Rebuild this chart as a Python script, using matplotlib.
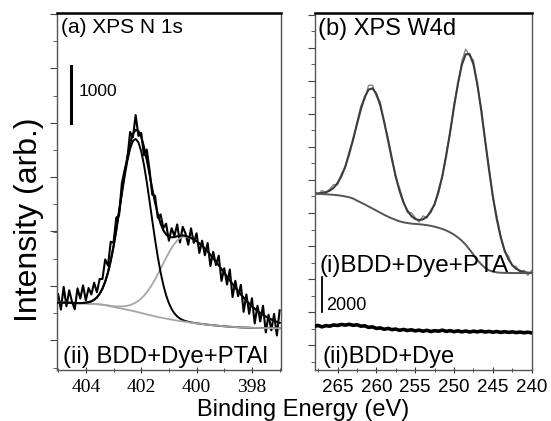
import matplotlib
matplotlib.use("Agg")
import matplotlib.pyplot as plt
from matplotlib.ticker import MultipleLocator, NullFormatter

plt.rcParams['font.family'] = ['Liberation Sans', 'DejaVu Sans']

# ---------------- (a) XPS N 1s : BDD+Dye+PTA ----------------
n1s_energy = [405.0, 404.9, 404.8, 404.7, 404.6, 404.5, 404.4, 404.3, 404.2, 404.1,
              404.0, 403.9, 403.8, 403.7, 403.6, 403.5, 403.4, 403.3, 403.2, 403.1,
              403.0, 402.9, 402.8, 402.7, 402.6, 402.5, 402.4, 402.3, 402.2, 402.1,
              402.0, 401.9, 401.8, 401.7, 401.6, 401.5, 401.4, 401.3, 401.2, 401.1,
              401.0, 400.9, 400.8, 400.7, 400.6, 400.5, 400.4, 400.3, 400.2, 400.1,
              400.0, 399.9, 399.8, 399.7, 399.6, 399.5, 399.4, 399.3, 399.2, 399.1,
              399.0, 398.9, 398.8, 398.7, 398.6, 398.5, 398.4, 398.3, 398.2, 398.1,
              398.0, 397.9, 397.8, 397.7, 397.6, 397.5, 397.4, 397.3, 397.2, 397.1,
              397.0]

# measured counts (noisy)
n1s_counts = [1335, 1065, 1464, 1123, 1403, 1202, 1069, 1438, 1258, 1490,
              1224, 1443, 1329, 1537, 1368, 1602, 1602, 1946, 1839, 2257,
              2239, 2682, 2715, 3280, 3517, 3711, 4189, 4093, 4487, 4119,
              4174, 3778, 3880, 3525, 3087, 3066, 2680, 2737, 2499, 2575,
              2276, 2495, 2360, 2563, 2245, 2520, 2402, 2205, 2494, 2238,
              2407, 2059, 2277, 2019, 2236, 1830, 2080, 1848, 2013, 1568,
              1791, 1504, 1768, 1283, 1570, 1299, 1499, 1024, 1330, 990,
              1263, 820, 1130, 854, 1131, 661, 973, 700, 987, 608,
              1051]

# fitted envelope
n1s_envelope = [1185, 1185, 1184, 1183, 1183, 1182, 1179, 1178, 1178, 1180,
                1184, 1193, 1209, 1237, 1278, 1342, 1432, 1556, 1719, 1927,
                2179, 2472, 2795, 3130, 3457, 3751, 3989, 4153, 4227, 4209,
                4104, 3928, 3700, 3445, 3187, 2946, 2740, 2577, 2459, 2385,
                2346, 2335, 2340, 2353, 2365, 2370, 2362, 2345, 2324, 2298,
                2267, 2229, 2187, 2139, 2086, 2030, 1970, 1908, 1843, 1778,
                1711, 1644, 1578, 1513, 1450, 1389, 1329, 1274, 1220, 1170,
                1123, 1080, 1040, 1004, 971, 941, 913, 890, 867, 848,
                831]

# component at ~402.2 eV (black)
n1s_peak1 = [1185, 1185, 1184, 1183, 1183, 1182, 1179, 1178, 1178, 1180,
             1184, 1193, 1209, 1236, 1277, 1340, 1429, 1551, 1712, 1917,
             2165, 2452, 2767, 3091, 3404, 3680, 3895, 4030, 4068, 4006,
             3849, 3612, 3314, 2979, 2633, 2297, 1989, 1721, 1496, 1316,
             1177, 1073, 997, 944, 906, 880, 862, 849, 838, 830,
             823, 816, 810, 804, 798, 793, 788, 783, 778, 774,
             770, 766, 762, 759, 756, 753, 750, 748, 746, 744,
             742, 741, 740, 739, 738, 738, 737, 737, 736, 736,
             735]

# component at ~400.4 eV (grey)
n1s_peak2 = [1185, 1185, 1184, 1183, 1182, 1180, 1178, 1176, 1174, 1172,
             1170, 1168, 1165, 1163, 1159, 1156, 1151, 1145, 1137, 1130,
             1124, 1120, 1118, 1119, 1123, 1131, 1144, 1163, 1187, 1219,
             1259, 1308, 1366, 1434, 1510, 1594, 1685, 1780, 1877, 1974,
             2065, 2149, 2221, 2279, 2321, 2345, 2348, 2337, 2320, 2296,
             2266, 2229, 2187, 2139, 2086, 2030, 1970, 1908, 1843, 1778,
             1711, 1644, 1578, 1513, 1450, 1389, 1329, 1274, 1220, 1170,
             1123, 1080, 1040, 1004, 971, 941, 913, 890, 867, 848,
             831]

# background
n1s_bg = [1185, 1185, 1184, 1183, 1182, 1180, 1178, 1176, 1174, 1172,
          1170, 1168, 1165, 1162, 1158, 1154, 1148, 1140, 1130, 1120,
          1110, 1100, 1090, 1080, 1070, 1060, 1050, 1040, 1028, 1016,
          1004, 992, 980, 968, 956, 945, 934, 924, 914, 905,
          896, 887, 878, 870, 862, 855, 848, 841, 834, 828,
          822, 816, 810, 804, 798, 793, 788, 783, 778, 774,
          770, 766, 762, 759, 756, 753, 750, 748, 746, 744,
          742, 741, 740, 739, 738, 738, 737, 737, 736, 736,
          735]

n1s_scale = 1000

# ---------------- (b) XPS W4d ----------------
w4d_energy = [268.0, 267.5, 267.0, 266.5, 266.0, 265.5, 265.0, 264.5, 264.0, 263.5,
              263.0, 262.5, 262.0, 261.5, 261.0, 260.5, 260.0, 259.5, 259.0, 258.5,
              258.0, 257.5, 257.0, 256.5, 256.0, 255.5, 255.0, 254.5, 254.0, 253.5,
              253.0, 252.5, 252.0, 251.5, 251.0, 250.5, 250.0, 249.5, 249.0, 248.5,
              248.0, 247.5, 247.0, 246.5, 246.0, 245.5, 245.0, 244.5, 244.0, 243.5,
              243.0, 242.5, 242.0, 241.5, 241.0, 240.5, 240.0]

# (i) BDD+Dye+PTA measured
w4d_pta_counts = [10982, 10807, 11038, 10892, 11125, 11369, 11370, 12003, 12353, 13305,
                  13881, 14956, 15925, 16305, 17116, 17120, 16476, 16165, 14925, 14106,
                  12951, 11735, 11163, 10388, 9753, 9748, 9467, 9204, 9565, 9442,
                  9926, 10171, 11109, 11827, 13206, 14330, 16060, 17099, 18512, 19204,
                  18820, 18564, 17052, 15829, 13860, 12390, 10606, 9557, 8437, 7466,
                  7259, 6657, 6647, 6297, 6430, 6135, 6398]

# (i) fit
w4d_pta_fit = [10862, 10867, 10888, 10932, 11025, 11189, 11460, 11863, 12423, 13145,
               13991, 14866, 15725, 16435, 16866, 16940, 16626, 15955, 15015, 13936,
               12841, 11835, 10983, 10328, 9863, 9558, 9387, 9324, 9365, 9512,
               9796, 10261, 10949, 11887, 13066, 14430, 15870, 17219, 18292, 18904,
               18920, 18324, 17182, 15659, 13950, 12240, 10686, 9377, 8347, 7586,
               7059, 6717, 6507, 6387, 6320, 6285, 6268]

# (i) background
w4d_pta_bg = [10850, 10840, 10830, 10815, 10800, 10780, 10760, 10730, 10690, 10640,
              10570, 10450, 10340, 10230, 10110, 9990, 9870, 9750, 9630, 9520,
              9420, 9330, 9250, 9190, 9150, 9120, 9100, 9080, 9060, 9030,
              8990, 8940, 8880, 8810, 8720, 8610, 8480, 8320, 8130, 7900,
              7620, 7320, 7020, 6760, 6560, 6420, 6340, 6300, 6280, 6270,
              6265, 6262, 6260, 6260, 6258, 6256, 6255]

# (ii) BDD+Dye measured
w4d_dye_counts = [3180, 3230, 3150, 3220, 3190, 3260, 3230, 3290, 3250, 3300,
                  3240, 3270, 3190, 3210, 3120, 3150, 3060, 3090, 3010, 3060,
                  2990, 3020, 2950, 3000, 2940, 2980, 2920, 2960, 2900, 2950,
                  2880, 2930, 2900, 2960, 2890, 2930, 2870, 2920, 2860, 2910,
                  2850, 2900, 2860, 2910, 2850, 2890, 2840, 2880, 2830, 2870,
                  2830, 2860, 2820, 2850, 2810, 2840, 2800]

w4d_scale = 2000

# ---------------- figure ----------------
fig = plt.figure(figsize=(5.51, 4.21), dpi=100)
ax1 = fig.add_axes([0.104, 0.1211, 0.406, 0.848])
ax2 = fig.add_axes([0.5717, 0.1211, 0.3933, 0.848])

grey = '#a6a6a6'

# panel (a)
ax1.plot(n1s_energy, n1s_counts, color='black', lw=1.5, zorder=1)
ax1.plot(n1s_energy, n1s_peak2, color=grey, lw=1.3, zorder=2)
ax1.plot(n1s_energy, n1s_peak1, color='black', lw=1.4, zorder=2)
ax1.plot(n1s_energy, n1s_bg, color=grey, lw=1.3, zorder=3)
ax1.plot(n1s_energy, n1s_envelope, color='black', lw=1.5, zorder=4)

# scale bar 1000
ax1.plot([404.55, 404.55], [4342, 4342 + n1s_scale], color='black', lw=2.2)
ax1.text(0.097, 0.779, str(n1s_scale), transform=ax1.transAxes,
         fontsize=12.5, ha='left', va='center')

ax1.text(0.015, 0.943, "(a) XPS N 1s", transform=ax1.transAxes,
         fontsize=15, ha='left', va='baseline')
ax1.text(0.025, 0.02, "(ii) BDD+Dye+PTAl", transform=ax1.transAxes,
         fontsize=17.3, ha='left', va='baseline')

ax1.set_xlim(405.03, 396.95)
ax1.set_ylim(0, 6283)
ax1.xaxis.set_major_locator(MultipleLocator(2))
ax1.xaxis.set_minor_locator(MultipleLocator(1))
ax1.yaxis.set_major_locator(MultipleLocator(957.4, offset=523))
ax1.yaxis.set_minor_locator(MultipleLocator(478.7, offset=44))
ax1.tick_params(axis='x', which='both', direction='inout', labelfontfamily='Liberation Serif',
                labelsize=14, pad=4, colors='#333333', labelcolor='black')
ax1.tick_params(axis='x', which='major', length=5)
ax1.tick_params(axis='x', which='minor', length=3)

# panel (b)
ax2.plot(w4d_energy, w4d_pta_counts, color='#8a8a8a', lw=1.0, zorder=1)
ax2.plot(w4d_energy, w4d_pta_fit, color='#3c3c3c', lw=1.5, zorder=2)
ax2.plot(w4d_energy, w4d_pta_bg, color='#555555', lw=1.4, zorder=2)
ax2.plot(w4d_energy, w4d_dye_counts, color='black', lw=2.6, zorder=3)

# scale bar 2000
ax2.plot([267.0, 267.0], [4025, 4025 + w4d_scale], color='black', lw=1.3)
ax2.text(0.05, 0.168, str(w4d_scale), transform=ax2.transAxes,
         fontsize=13, ha='left', va='baseline')

ax2.text(0.014, 0.938, "(b) XPS W4d", transform=ax2.transAxes,
         fontsize=17, ha='left', va='baseline')
ax2.text(0.023, 0.275, "(i)BDD+Dye+PTA", transform=ax2.transAxes,
         fontsize=17.5, ha='left', va='baseline')
ax2.text(0.035, 0.02, "(ii)BDD+Dye", transform=ax2.transAxes,
         fontsize=17, ha='left', va='baseline')

ax2.set_xlim(267.9, 240.0)
ax2.set_ylim(655, 21293)
ax2.xaxis.set_major_locator(MultipleLocator(5))
ax2.xaxis.set_minor_locator(MultipleLocator(2.5))
ax2.yaxis.set_major_locator(MultipleLocator(1908, offset=192))
ax2.yaxis.set_minor_locator(MultipleLocator(954, offset=192))
ax2.tick_params(axis='x', which='both', direction='inout', labelsize=13.5, pad=4,
                colors='#333333', labelcolor='black')
ax2.tick_params(axis='x', which='major', length=5)
ax2.tick_params(axis='x', which='minor', length=3)

for ax in (ax1, ax2):
    ax.yaxis.set_major_formatter(NullFormatter())
    ax.tick_params(axis='y', which='both', direction='out', colors='#444444')
    ax.tick_params(axis='y', which='major', length=5)
    ax.tick_params(axis='y', which='minor', length=3)
    for side in ('left', 'right', 'bottom'):
        ax.spines[side].set_color('#555555')
        ax.spines[side].set_linewidth(1.0)
    ax.spines['top'].set_color('black')
    ax.spines['top'].set_linewidth(1.8)

fig.text(0.053, 0.477, "Intensity (arb.)", rotation=90, fontsize=23,
         ha='center', va='center')
fig.text(0.55, 0.011, "Binding Energy (eV)", fontsize=17,
         ha='center', va='baseline')

fig.savefig("out.png", dpi=100)
